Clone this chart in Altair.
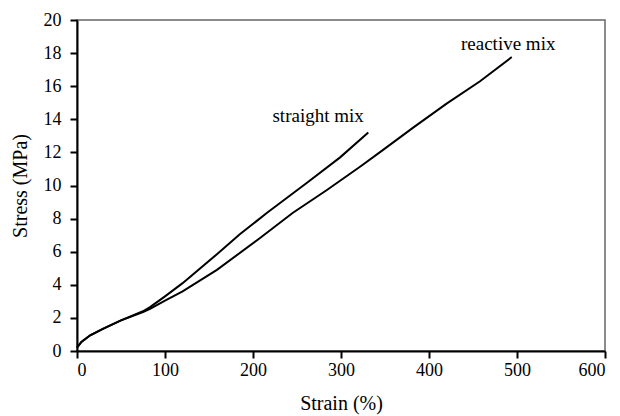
import altair as alt
import pandas as pd

straight_strain = [0, 5, 15, 30, 50, 75, 83, 100, 120, 159, 185, 216, 261, 299, 331]
straight_stress = [0.2, 0.55, 0.95, 1.35, 1.85, 2.4, 2.65, 3.3, 4.1, 5.85, 7.05, 8.35, 10.15, 11.7, 13.2]

reactive_strain = [0, 5, 15, 30, 50, 75, 83, 100, 120, 159, 208, 245, 284, 322, 344, 382, 420, 458, 494]
reactive_stress = [0.2, 0.55, 0.95, 1.35, 1.85, 2.35, 2.55, 3.05, 3.6, 4.9, 6.83, 8.34, 9.73, 11.15, 12.0, 13.5, 14.95, 16.3, 17.76]

label_text = ["straight mix", "reactive mix"]
label_strain = [274, 490]
label_stress = [14.2, 18.55]

rows = []
for s, v in zip(straight_strain, straight_stress):
    rows.append({"series": "straight mix", "strain": s, "stress": v})
for s, v in zip(reactive_strain, reactive_stress):
    rows.append({"series": "reactive mix", "strain": s, "stress": v})
df = pd.DataFrame(rows)
labels = pd.DataFrame({"text": label_text, "strain": label_strain, "stress": label_stress})

FONT = "Liberation Serif"

x = alt.X("strain:Q", scale=alt.Scale(domain=[0, 600], nice=False),
          axis=alt.Axis(title="Strain (%)", values=list(range(0, 601, 100)), format="d"))
y = alt.Y("stress:Q", scale=alt.Scale(domain=[0, 20], nice=False),
          axis=alt.Axis(title="Stress (MPa)", values=list(range(0, 21, 2)), format="d"))

lines = alt.Chart(df).mark_line(color="black", strokeWidth=2).encode(
    x=x, y=y, detail="series:N", order="strain:Q")

text = alt.Chart(labels).mark_text(font=FONT, fontSize=19, color="black", align="center",
                                   baseline="middle").encode(
    x=x, y=y, text="text:N")

chart = (lines + text).properties(
    width=528, height=331,
    autosize=alt.AutoSizeParams(type="none"),
    padding={"left": 69, "top": 12, "right": 7, "bottom": 64},
).configure_view(stroke="#666666", strokeWidth=1.5).configure_axis(
    grid=False, domainColor="black", domainWidth=2, tickColor="black", tickWidth=2,
    tickSize=7, labelFont=FONT, labelFontSize=18, labelColor="black", labelOverlap=False,
    titleFont=FONT, titleFontSize=20, titleFontWeight="normal", titleColor="black",
).configure_axisX(labelPadding=3, titlePadding=14).configure_axisY(labelPadding=9, titlePadding=13)

chart.save("out.html", embed_options={"renderer": "svg", "actions": False})
